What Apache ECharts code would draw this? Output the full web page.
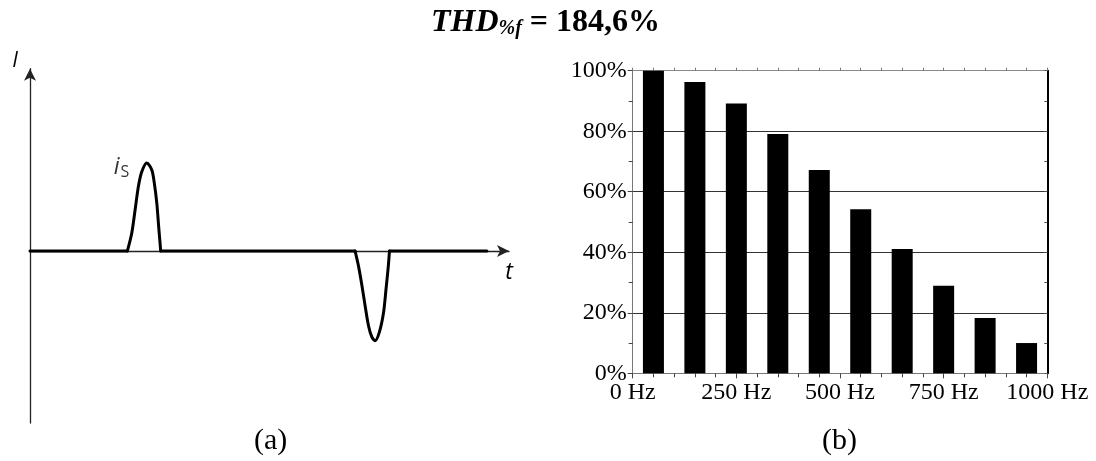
<!DOCTYPE html>
<html>
<head>
<meta charset="utf-8">
<script src="https://cdn.jsdelivr.net/npm/echarts@6/dist/echarts.min.js"></script>
<style>
html,body{margin:0;padding:0;background:#fff;}
#chart{width:1096px;height:461px;}
</style>
</head>
<body>
<div id="chart"></div>
<script>
// ---- data: panel (a) current waveform (t in ms, i normalised) ----
const baseSegments = [
  [[0, 0], [4.27, 0]],
  [[5.73, 0], [14.25, 0]],
  [[15.76, 0], [20.03, 0]]
];
const pulsePos = [[4.27,0],[4.46,0.20],[4.61,0.47],[4.75,0.73],[4.90,0.90],[5.12,1.0],[5.34,0.92],[5.45,0.77],[5.56,0.54],[5.64,0.28],[5.73,0]];
const pulseNeg = [[14.25,0],[14.40,-0.17],[14.55,-0.39],[14.69,-0.62],[14.84,-0.85],[14.99,-0.98],[15.13,-1.02],[15.32,-0.92],[15.50,-0.70],[15.61,-0.43],[15.71,-0.17],[15.76,0]];
const peakLabelPoint = [5.12, 1.0];

// ---- data: panel (b) harmonic spectrum ----
const freqs = [50, 150, 250, 350, 450, 550, 650, 750, 850, 950];
const mags = [100, 96.3, 89.2, 79.1, 67.2, 54.2, 41.1, 28.9, 18.3, 10.0];
const freqTicks = [0, 250, 500, 750, 1000];
const pctTicks = [0, 20, 40, 60, 80, 100];

const serif = "'Liberation Serif', 'Times New Roman', serif";
const sans = "'Open Sans', 'Noto Sans', sans-serif";

const chart = echarts.init(document.getElementById('chart'), null, {renderer: 'canvas'});

const waveSeries = [];
baseSegments.forEach(seg => {
  waveSeries.push({
    type: 'line', xAxisIndex: 0, yAxisIndex: 0, data: seg,
    showSymbol: false, symbol: 'none', silent: true, animation: false,
    lineStyle: {color: '#000', width: 3, cap: 'round', join: 'round'}, z: 5
  });
});
[pulsePos, pulseNeg].forEach(p => {
  waveSeries.push({
    type: 'line', xAxisIndex: 0, yAxisIndex: 0, data: p, smooth: 0.3,
    showSymbol: false, symbol: 'none', silent: true, animation: false,
    lineStyle: {color: '#000', width: 3, cap: 'round', join: 'round'}, z: 5
  });
});
waveSeries.push({
  type: 'scatter', xAxisIndex: 0, yAxisIndex: 0, data: [peakLabelPoint],
  symbolSize: 1, itemStyle: {color: 'rgba(0,0,0,0)'}, silent: true, animation: false,
  label: {
    show: true, position: 'left', distance: 17, offset: [0, 5],
    formatter: '{i|i}{s|S}',
    rich: {
      i: {fontFamily: sans, fontStyle: 'italic', fontSize: 23, color: '#000'},
      s: {fontFamily: sans, fontSize: 16, color: '#000', padding: [9, 0, 0, 1]}
    }
  }
});

const option = {
  backgroundColor: '#fff',
  animation: false,
  title: [
    {
      left: 426, top: 2,
      text: '{a|THD}{b|%f}{c| = 184,6%}',
      textStyle: {
        rich: {
          a: {fontFamily: serif, fontStyle: 'italic', fontWeight: 'bold', fontSize: 32, color: '#000'},
          b: {fontFamily: serif, fontStyle: 'italic', fontWeight: 'bold', fontSize: 20, color: '#000', padding: [12, 0, 0, 0]},
          c: {fontFamily: serif, fontWeight: 'bold', fontSize: 32, color: '#000'}
        }
      }
    },
    {left: 249, top: 421, text: '(a)', textStyle: {fontFamily: serif, fontWeight: 'normal', fontSize: 30, color: '#000'}},
    {left: 817, top: 421, text: '(b)', textStyle: {fontFamily: serif, fontWeight: 'normal', fontSize: 30, color: '#000'}}
  ],
  grid: [
    {left: 30, top: 68.7, right: 587, bottom: 38, containLabel: false},
    {left: 632.7, top: 70.7, right: 48.7, bottom: 87.7, containLabel: false}
  ],
  xAxis: [
    {
      gridIndex: 0, type: 'value', min: 0, max: 21,
      axisLine: {show: true, onZero: true, symbol: ['none', 'arrow'], symbolSize: [9, 12],
        lineStyle: {color: '#222', width: 1.3}},
      axisTick: {show: false}, axisLabel: {show: false}, splitLine: {show: false},
      name: 't', nameLocation: 'end', nameGap: 0,
      nameTextStyle: {fontFamily: sans, fontStyle: 'italic', fontSize: 23, color: '#000',
        align: 'center', verticalAlign: 'top', padding: [10, 0, 0, 0]}
    },
    {
      gridIndex: 1, type: 'value', min: 0, max: 1000, interval: 250, position: 'bottom',
      axisLine: {show: true, onZero: false, lineStyle: {color: '#777', width: 1}},
      axisTick: {show: true, length: 5, lineStyle: {color: '#444'}},
      minorTick: {show: true, splitNumber: 5, length: 4, lineStyle: {color: '#444'}},
      axisLabel: {show: true, formatter: v => v + ' Hz', fontFamily: serif, fontSize: 24, color: '#000', margin: 7},
      splitLine: {show: false}
    },
    {
      gridIndex: 1, type: 'value', min: 0, max: 1000, interval: 250, position: 'top',
      axisLine: {show: true, onZero: false, lineStyle: {color: '#888', width: 1}},
      axisTick: {show: true, length: 3, lineStyle: {color: '#777'}},
      minorTick: {show: true, splitNumber: 5, length: 3, lineStyle: {color: '#777'}},
      axisLabel: {show: false}, splitLine: {show: false}
    }
  ],
  yAxis: [
    {
      gridIndex: 0, type: 'value', min: -1.955, max: 2.07,
      axisLine: {show: true, onZero: false, symbol: ['none', 'arrow'], symbolSize: [9, 12],
        lineStyle: {color: '#222', width: 1.3}},
      axisTick: {show: false}, axisLabel: {show: false}, splitLine: {show: false},
      name: 'I', nameLocation: 'end', nameGap: 8,
      nameTextStyle: {fontFamily: sans, fontStyle: 'italic', fontSize: 21, color: '#000',
        align: 'right', verticalAlign: 'middle', padding: [0, 12, 0, 0]}
    },
    {
      gridIndex: 1, type: 'value', min: 0, max: 100, interval: 20, position: 'left',
      axisLine: {show: true, onZero: false, lineStyle: {color: '#777', width: 1}},
      axisTick: {show: true, length: 5, lineStyle: {color: '#444'}},
      minorTick: {show: true, splitNumber: 2, length: 4, lineStyle: {color: '#444'}},
      axisLabel: {show: true, formatter: v => v + '%', fontFamily: serif, fontSize: 24, color: '#000', margin: 6},
      splitLine: {show: true, lineStyle: {color: '#333', width: 1}}
    },
    {
      gridIndex: 1, type: 'value', min: 0, max: 100, interval: 20, position: 'right',
      axisLine: {show: true, onZero: false, lineStyle: {color: '#000', width: 2}},
      axisTick: {show: true, inside: true, length: 3, lineStyle: {color: '#555'}},
      minorTick: {show: true, splitNumber: 2, length: 3, lineStyle: {color: '#555'}},
      axisLabel: {show: false}, splitLine: {show: false}
    }
  ],
  series: waveSeries.concat([
    {
      type: 'bar', xAxisIndex: 1, yAxisIndex: 1,
      data: freqs.map((f, i) => [f, mags[i]]),
      barWidth: 21, itemStyle: {color: '#000'}, silent: true, z: 3
    }
  ])
};
chart.setOption(option);
</script>
</body>
</html>
